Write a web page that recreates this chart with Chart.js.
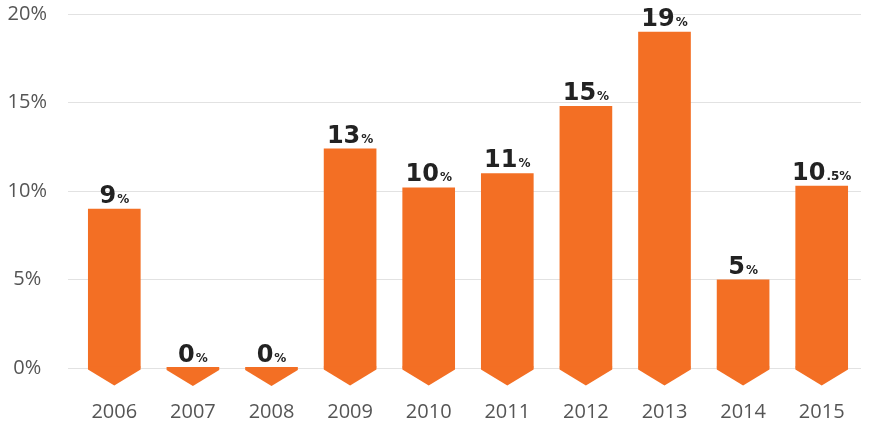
<!DOCTYPE html>
<html>
<head>
<meta charset="utf-8">
<script src="https://cdn.jsdelivr.net/npm/chart.js@4/dist/chart.umd.min.js"></script>
<style>
    body { margin: 0; background: #fff; }
    #wrap { width: 871px; height: 425px; }
</style>
</head>
<body>
<div id="wrap"><canvas id="chart" width="871" height="425"></canvas></div>
<script>
// Data
const years = ['2006', '2007', '2008', '2009', '2010', '2011', '2012', '2013', '2014', '2015'];
const growth = [9, 0, 0, 12.4, 10.2, 11, 14.8, 19, 5, 10.3];
// value labels: big part + small part
const labelMain = ['9', '0', '0', '13', '10', '11', '15', '19', '5', '10'];
const labelSmall = ['%', '%', '%', '%', '%', '%', '%', '%', '%', '.5%'];
const yTicks = [0, 5, 10, 15, 20];

const orange = '#f36f24';

// Arrow-shaped bottom and value labels
const arrowBars = {
    id: 'arrowBars',
    afterDatasetsDraw(chart) {
        const ctx = chart.ctx;
        const bars = chart.getDatasetMeta(0).data;

        ctx.save();
        bars.forEach((bar, i) => {
            const half = bar.width / 2;
            const base = bar.base;

            ctx.fillStyle = orange;
            ctx.beginPath();
            ctx.moveTo(bar.x - half, base - 1);
            ctx.lineTo(bar.x + half, base - 1);
            ctx.lineTo(bar.x + half, base + 2);
            ctx.lineTo(bar.x, base + 18);
            ctx.lineTo(bar.x - half, base + 2);
            ctx.closePath();
            ctx.fill();

            // label
            const big = labelMain[i];
            const small = labelSmall[i];
            ctx.font = 'bold 24px "DejaVu Sans"';
            const wBig = ctx.measureText(big).width;
            ctx.font = 'bold 12px "DejaVu Sans"';
            const wSmall = ctx.measureText(small).width;
            const left = bar.x - (wBig + wSmall + 1) / 2;
            const baseline = Math.min(bar.y, base) - 6;

            ctx.fillStyle = '#222';
            ctx.textBaseline = 'alphabetic';
            ctx.textAlign = 'left';
            ctx.font = 'bold 24px "DejaVu Sans"';
            ctx.fillText(big, left, baseline);
            ctx.font = 'bold 12px "DejaVu Sans"';
            ctx.fillText(small, left + wBig + 1, baseline);
        });
        ctx.restore();
    }
};

new Chart(document.getElementById('chart'), {
    type: 'bar',
    data: {
        labels: years,
        datasets: [{
            data: growth,
            backgroundColor: orange,
            borderWidth: 0,
            categoryPercentage: 1,
            barPercentage: 0.67
        }]
    },
    options: {
        responsive: false,
        animation: false,
        layout: {
            padding: { top: 14, right: 10, left: 0, bottom: 0 }
        },
        plugins: {
            legend: { display: false },
            tooltip: { enabled: false }
        },
        scales: {
            x: {
                grid: { display: false, drawTicks: false },
                border: { display: false },
                afterFit: (axis) => {
                    axis.height = 57;
                    axis.paddingLeft = 0;
                    axis.paddingRight = 0;
                },
                ticks: {
                    color: '#555',
                    padding: 32,
                    font: { family: '"Open Sans"', size: 20 }
                }
            },
            y: {
                min: 0,
                max: 20,
                afterBuildTicks: (axis) => {
                    axis.ticks = yTicks.map(v => ({ value: v }));
                },
                afterFit: (axis) => {
                    axis.width = 75;
                    axis.paddingTop = 0;
                    axis.paddingBottom = 0;
                },
                grid: {
                    color: '#e2e2e2',
                    lineWidth: 1,
                    drawTicks: true,
                    tickLength: 7
                },
                border: { display: false },
                ticks: {
                    color: '#555',
                    padding: 21,
                    crossAlign: 'center',
                    font: { family: '"Open Sans"', size: 20 },
                    callback: (v) => v + '%'
                }
            }
        }
    },
    plugins: [arrowBars]
});
</script>
</body>
</html>
